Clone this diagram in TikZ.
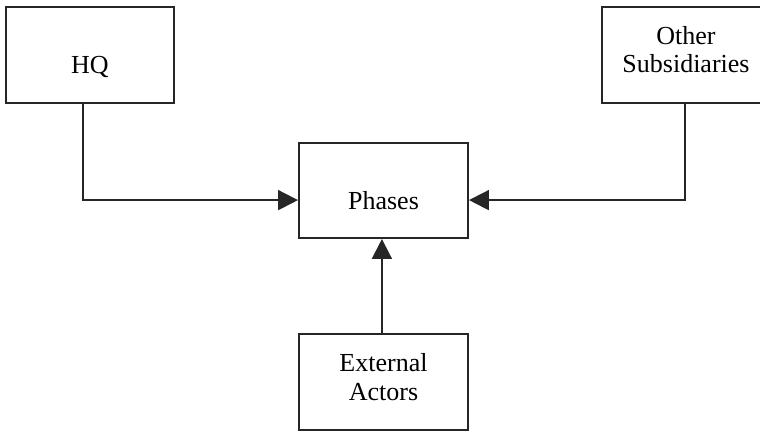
\documentclass[tikz,border=0pt]{standalone}
\usepackage{fontspec}
\setmainfont{Liberation Serif}
\usepackage{tikz}
\usetikzlibrary{arrows.meta,positioning}
\tikzset{
  org box/.style={
    draw=black!85,
    line width=1.4pt,
    align=center,
    font=\fontsize{18.5}{20.6}\selectfont,
    minimum width=4.2cm,
    minimum height=2.4cm,
    inner sep=2pt
  },
  one line/.style={text height=0.95cm,text depth=0pt},
  two lines/.style={text height=0.9cm,text depth=0pt},
  org link/.style={
    -{Triangle[length=5mm,width=5mm]},
    draw=black!85,
    line width=1.4pt
  }
}
\begin{document}
\begin{tikzpicture}
        \useasboundingbox (0,0) rectangle (19,-10.775);
        \node[org box,one line] (hq) at (2.25,-1.375) {HQ};
        \node[org box,two lines] (other) at (17.15,-1.375) {Other\\Subsidiaries};
        \node[org box,one line,minimum width=4.225cm,minimum height=2.375cm] (phases) at (9.5875,-4.7625) {Phases};
        \node[org box,two lines,minimum width=4.225cm] (ext) at (9.5875,-9.55) {External\\Actors};

        \draw[org link] ([xshift=-1.75mm]hq.south) |- ([yshift=-2.4mm]phases.west);
        \draw[org link] ([xshift=-0.25mm]other.south) |- ([yshift=-2.4mm]phases.east);
        \draw[org link] ([xshift=-0.4mm]ext.north) -- ([xshift=-0.4mm]phases.south);
      \end{tikzpicture}
\end{document}
